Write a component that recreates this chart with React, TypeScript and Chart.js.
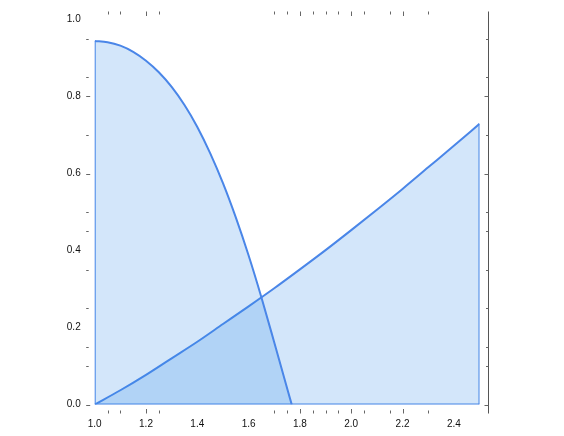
import React, { useEffect, useRef } from "react";
import { Chart, registerables } from "chart.js";

Chart.register(...registerables);

// Falling curve (filled to zero)
const fallX = [1.0, 1.05, 1.1, 1.15, 1.2, 1.25, 1.3, 1.35, 1.4, 1.45, 1.5, 1.55, 1.6, 1.65, 1.7, 1.75, 1.768];
const fallY = [0.944, 0.941, 0.932, 0.916, 0.893, 0.863, 0.825, 0.778, 0.721, 0.653, 0.575, 0.486, 0.387, 0.278, 0.161, 0.042, 0];

// Rising curve (filled to zero)
const riseX = [1.0, 1.1, 1.2, 1.3, 1.4, 1.5, 1.6, 1.7, 1.8, 1.9, 2.0, 2.1, 2.2, 2.3, 2.4, 2.5];
const riseY = [0, 0.037, 0.077, 0.12, 0.163, 0.209, 0.255, 0.302, 0.351, 0.401, 0.453, 0.506, 0.56, 0.616, 0.672, 0.729];

// Outline edges: left edge of the falling area, right edge of the rising area, baseline
const leftEdgeX = [1.0, 1.0];
const leftEdgeY = [0, 0.944];
const rightEdgeX = [2.5, 2.5];
const rightEdgeY = [0, 0.729];
const baseX = [1.0, 2.5];
const baseY = [0, 0];

// Axis ranges and tick labels
const xMin = 1.0;
const xMax = 2.5;
const yMin = 0;
const yMax = 1.0;
const xLabelStep = 0.2;
const yLabelStep = 0.2;

// Frame tick marks
const xTickMarks = [1.05, 1.1, 1.2, 1.25, 1.7, 1.75, 1.8, 1.85, 1.9, 1.95, 2.0, 2.05, 2.15, 2.2, 2.3];
const xLongTickMarks = [1.2, 1.8, 2.0, 2.2];
const yTickMarks = [0.0, 0.1, 0.15, 0.25, 0.35, 0.45, 0.5, 0.6, 0.7, 0.8, 0.85, 0.95];
const yLongTickMarks = [0.0, 0.6, 0.8];

const STROKE = "#4a86e8";
const FILL = "rgba(53,140,230,0.22)";
const FONT = { family: "Arial, 'Liberation Sans', sans-serif", size: 10 };

const toPts = (xs: number[], ys: number[]) => xs.map((x, i) => ({ x, y: ys[i] }));

const framePlugin = {
  id: "frameTicks",
  afterDraw(chart: any) {
    const { ctx, chartArea: a, scales } = chart;
    const xs = scales.x;
    const ys = scales.y;
    const L = a.left - 8.5;
    const R = Math.round(a.right + 8) + 0.5;
    const T = a.top - 8;
    const B = a.bottom + 9;
    ctx.save();
    ctx.strokeStyle = "#555";
    ctx.lineWidth = 1;
    ctx.beginPath();
    ctx.moveTo(R, T);
    ctx.lineTo(R, B);
    ctx.stroke();
    ctx.strokeStyle = "#666";
    ctx.beginPath();
    for (const v of xTickMarks) {
      const px = Math.round(xs.getPixelForValue(v)) + 0.5;
      const len = xLongTickMarks.includes(v) ? 4.5 : 3;
      ctx.moveTo(px, T);
      ctx.lineTo(px, T + len);
      ctx.moveTo(px, B);
      ctx.lineTo(px, B - len);
    }
    for (const v of yTickMarks) {
      const py = Math.round(ys.getPixelForValue(v)) + 0.5;
      const len = yLongTickMarks.includes(v) ? 4 : 2.5;
      ctx.moveTo(L, py);
      ctx.lineTo(L + len, py);
      ctx.moveTo(R, py);
      ctx.lineTo(R - len, py);
    }
    ctx.stroke();
    ctx.restore();
  },
};

const curve = (xs: number[], ys: number[]) => ({
  data: toPts(xs, ys),
  borderColor: STROKE,
  backgroundColor: FILL,
  borderWidth: 2,
  fill: "origin",
  pointRadius: 0,
  cubicInterpolationMode: "monotone",
});

const edge = (xs: number[], ys: number[]) => ({
  data: toPts(xs, ys),
  borderColor: STROKE,
  borderWidth: 2,
  fill: false,
  pointRadius: 0,
  tension: 0,
});

export default function App() {
  const ref = useRef<HTMLCanvasElement | null>(null);

  useEffect(() => {
    if (!ref.current) return;
    const chart = new Chart(ref.current, {
      type: "line",
      data: {
        datasets: [
          curve(fallX, fallY),
          curve(riseX, riseY),
          edge(leftEdgeX, leftEdgeY),
          edge(rightEdgeX, rightEdgeY),
          edge(baseX, baseY),
        ] as any,
      },
      options: {
        responsive: false,
        animation: false,
        events: [],
        layout: { padding: { left: 0, right: 84.5, top: 19.5, bottom: 0 } },
        plugins: { legend: { display: false }, tooltip: { enabled: false } },
        scales: {
          x: {
            type: "linear",
            min: xMin,
            max: xMax,
            grid: { display: false },
            border: { display: false },
            afterFit: (s: any) => {
              s.height = 31.5;
            },
            ticks: {
              stepSize: xLabelStep,
              includeBounds: false,
              autoSkip: false,
              maxRotation: 0,
              padding: 5.5,
              color: "#111",
              font: FONT,
              callback: (v: any) => Number(v).toFixed(1),
            },
          },
          y: {
            type: "linear",
            min: yMin,
            max: yMax,
            grid: { display: false },
            border: { display: false },
            afterFit: (s: any) => {
              s.width = 94.7;
            },
            ticks: {
              stepSize: yLabelStep,
              padding: 6,
              color: "#111",
              font: FONT,
              callback: (v: any) => Number(v).toFixed(1),
            },
          },
        },
      },
      plugins: [framePlugin],
    });
    return () => chart.destroy();
  }, []);

  return (
    <div style={{ position: "fixed", left: 0, top: 0, width: 564, height: 436, background: "#fff" }}>
      <canvas ref={ref} width={564} height={436} style={{ display: "block" }} />
    </div>
  );
}
